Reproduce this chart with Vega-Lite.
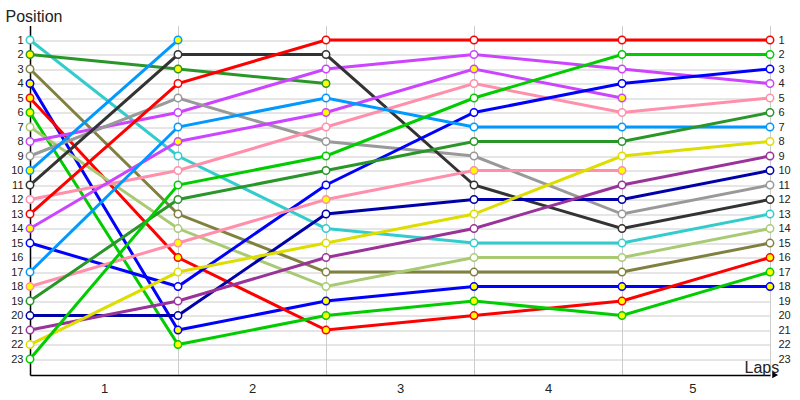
{
  "$schema": "https://vega.github.io/schema/vega-lite/v6.json",
  "width": 740,
  "height": 349.5,
  "autosize": "none",
  "padding": {"left": 30, "top": 25.5, "right": 30, "bottom": 25},
  "background": "white",
  "config": {"view": {"stroke": null}, "font": "Liberation Sans"},
  "datasets": {
    "laps": [
      {"d":"01","t":"cyan","l":0,"p":1,"pit":"n"},{"d":"01","t":"cyan","l":1,"p":9,"pit":"n"},{"d":"01","t":"cyan","l":2,"p":14,"pit":"n"},{"d":"01","t":"cyan","l":3,"p":15,"pit":"n"},{"d":"01","t":"cyan","l":4,"p":15,"pit":"n"},{"d":"01","t":"cyan","l":5,"p":13,"pit":"n"},
      {"d":"02","t":"dkgreen","l":0,"p":2,"pit":"y"},{"d":"02","t":"dkgreen","l":1,"p":3,"pit":"y"},{"d":"02","t":"dkgreen","l":2,"p":4,"pit":"y"},
      {"d":"03","t":"olive","l":0,"p":3,"pit":"n"},{"d":"03","t":"olive","l":1,"p":13,"pit":"n"},{"d":"03","t":"olive","l":2,"p":17,"pit":"n"},{"d":"03","t":"olive","l":3,"p":17,"pit":"n"},{"d":"03","t":"olive","l":4,"p":17,"pit":"n"},{"d":"03","t":"olive","l":5,"p":15,"pit":"n"},
      {"d":"04","t":"blue","l":0,"p":4,"pit":"y"},{"d":"04","t":"blue","l":1,"p":21,"pit":"y"},{"d":"04","t":"blue","l":2,"p":19,"pit":"y"},{"d":"04","t":"blue","l":3,"p":18,"pit":"y"},{"d":"04","t":"blue","l":4,"p":18,"pit":"y"},{"d":"04","t":"blue","l":5,"p":18,"pit":"y"},
      {"d":"05","t":"red","l":0,"p":5,"pit":"y"},{"d":"05","t":"red","l":1,"p":16,"pit":"y"},{"d":"05","t":"red","l":2,"p":21,"pit":"y"},{"d":"05","t":"red","l":3,"p":20,"pit":"y"},{"d":"05","t":"red","l":4,"p":19,"pit":"y"},{"d":"05","t":"red","l":5,"p":16,"pit":"y"},
      {"d":"06","t":"green","l":0,"p":6,"pit":"y"},{"d":"06","t":"green","l":1,"p":22,"pit":"y"},{"d":"06","t":"green","l":2,"p":20,"pit":"y"},{"d":"06","t":"green","l":3,"p":19,"pit":"y"},{"d":"06","t":"green","l":4,"p":20,"pit":"y"},{"d":"06","t":"green","l":5,"p":17,"pit":"y"},
      {"d":"07","t":"ltgreen","l":0,"p":7,"pit":"n"},{"d":"07","t":"ltgreen","l":1,"p":14,"pit":"n"},{"d":"07","t":"ltgreen","l":2,"p":18,"pit":"n"},{"d":"07","t":"ltgreen","l":3,"p":16,"pit":"n"},{"d":"07","t":"ltgreen","l":4,"p":16,"pit":"n"},{"d":"07","t":"ltgreen","l":5,"p":14,"pit":"n"},
      {"d":"08","t":"violet","l":0,"p":8,"pit":"n"},{"d":"08","t":"violet","l":1,"p":6,"pit":"n"},{"d":"08","t":"violet","l":2,"p":3,"pit":"n"},{"d":"08","t":"violet","l":3,"p":2,"pit":"n"},{"d":"08","t":"violet","l":4,"p":3,"pit":"n"},{"d":"08","t":"violet","l":5,"p":4,"pit":"n"},
      {"d":"09","t":"gray","l":0,"p":9,"pit":"n"},{"d":"09","t":"gray","l":1,"p":5,"pit":"n"},{"d":"09","t":"gray","l":2,"p":8,"pit":"n"},{"d":"09","t":"gray","l":3,"p":9,"pit":"n"},{"d":"09","t":"gray","l":4,"p":13,"pit":"n"},{"d":"09","t":"gray","l":5,"p":11,"pit":"n"},
      {"d":"10","t":"sky","l":0,"p":10,"pit":"y"},{"d":"10","t":"sky","l":1,"p":1,"pit":"y"},
      {"d":"11","t":"dkgray","l":0,"p":11,"pit":"n"},{"d":"11","t":"dkgray","l":1,"p":2,"pit":"n"},{"d":"11","t":"dkgray","l":2,"p":2,"pit":"n"},{"d":"11","t":"dkgray","l":3,"p":11,"pit":"n"},{"d":"11","t":"dkgray","l":4,"p":14,"pit":"n"},{"d":"11","t":"dkgray","l":5,"p":12,"pit":"n"},
      {"d":"12","t":"pink","l":0,"p":12,"pit":"n"},{"d":"12","t":"pink","l":1,"p":10,"pit":"n"},{"d":"12","t":"pink","l":2,"p":7,"pit":"n"},{"d":"12","t":"pink","l":3,"p":4,"pit":"n"},{"d":"12","t":"pink","l":4,"p":6,"pit":"n"},{"d":"12","t":"pink","l":5,"p":5,"pit":"n"},
      {"d":"13","t":"red","l":0,"p":13,"pit":"n"},{"d":"13","t":"red","l":1,"p":4,"pit":"n"},{"d":"13","t":"red","l":2,"p":1,"pit":"n"},{"d":"13","t":"red","l":3,"p":1,"pit":"n"},{"d":"13","t":"red","l":4,"p":1,"pit":"n"},{"d":"13","t":"red","l":5,"p":1,"pit":"n"},
      {"d":"14","t":"violet","l":0,"p":14,"pit":"y"},{"d":"14","t":"violet","l":1,"p":8,"pit":"y"},{"d":"14","t":"violet","l":2,"p":6,"pit":"y"},{"d":"14","t":"violet","l":3,"p":3,"pit":"y"},{"d":"14","t":"violet","l":4,"p":5,"pit":"y"},
      {"d":"15","t":"blue","l":0,"p":15,"pit":"n"},{"d":"15","t":"blue","l":1,"p":18,"pit":"n"},{"d":"15","t":"blue","l":2,"p":11,"pit":"n"},{"d":"15","t":"blue","l":3,"p":6,"pit":"n"},{"d":"15","t":"blue","l":4,"p":4,"pit":"n"},{"d":"15","t":"blue","l":5,"p":3,"pit":"n"},
      {"d":"17","t":"sky","l":0,"p":17,"pit":"n"},{"d":"17","t":"sky","l":1,"p":7,"pit":"n"},{"d":"17","t":"sky","l":2,"p":5,"pit":"n"},{"d":"17","t":"sky","l":3,"p":7,"pit":"n"},{"d":"17","t":"sky","l":4,"p":7,"pit":"n"},{"d":"17","t":"sky","l":5,"p":7,"pit":"n"},
      {"d":"18","t":"pink","l":0,"p":18,"pit":"y"},{"d":"18","t":"pink","l":1,"p":15,"pit":"y"},{"d":"18","t":"pink","l":2,"p":12,"pit":"y"},{"d":"18","t":"pink","l":3,"p":10,"pit":"y"},{"d":"18","t":"pink","l":4,"p":10,"pit":"y"},
      {"d":"19","t":"dkgreen","l":0,"p":19,"pit":"n"},{"d":"19","t":"dkgreen","l":1,"p":12,"pit":"n"},{"d":"19","t":"dkgreen","l":2,"p":10,"pit":"n"},{"d":"19","t":"dkgreen","l":3,"p":8,"pit":"n"},{"d":"19","t":"dkgreen","l":4,"p":8,"pit":"n"},{"d":"19","t":"dkgreen","l":5,"p":6,"pit":"n"},
      {"d":"20","t":"navy","l":0,"p":20,"pit":"n"},{"d":"20","t":"navy","l":1,"p":20,"pit":"n"},{"d":"20","t":"navy","l":2,"p":13,"pit":"n"},{"d":"20","t":"navy","l":3,"p":12,"pit":"n"},{"d":"20","t":"navy","l":4,"p":12,"pit":"n"},{"d":"20","t":"navy","l":5,"p":10,"pit":"n"},
      {"d":"21","t":"purple","l":0,"p":21,"pit":"n"},{"d":"21","t":"purple","l":1,"p":19,"pit":"n"},{"d":"21","t":"purple","l":2,"p":16,"pit":"n"},{"d":"21","t":"purple","l":3,"p":14,"pit":"n"},{"d":"21","t":"purple","l":4,"p":11,"pit":"n"},{"d":"21","t":"purple","l":5,"p":9,"pit":"n"},
      {"d":"22","t":"yellow","l":0,"p":22,"pit":"n"},{"d":"22","t":"yellow","l":1,"p":17,"pit":"n"},{"d":"22","t":"yellow","l":2,"p":15,"pit":"n"},{"d":"22","t":"yellow","l":3,"p":13,"pit":"n"},{"d":"22","t":"yellow","l":4,"p":9,"pit":"n"},{"d":"22","t":"yellow","l":5,"p":8,"pit":"n"},
      {"d":"23","t":"green","l":0,"p":23,"pit":"n"},{"d":"23","t":"green","l":1,"p":11,"pit":"n"},{"d":"23","t":"green","l":2,"p":9,"pit":"n"},{"d":"23","t":"green","l":3,"p":5,"pit":"n"},{"d":"23","t":"green","l":4,"p":2,"pit":"n"},{"d":"23","t":"green","l":5,"p":2,"pit":"n"}
    ],
    "arrow": [{"l": 5.035, "p": 24.1}]
  },
  "resolve": {"axis": {"y": "independent", "x": "independent"}},
  "layer": [
    {
      "data": {"name": "laps"},
      "mark": {"type": "line", "strokeWidth": 3},
      "encoding": {
        "x": {"field": "l", "type": "quantitative",
          "scale": {"domain": [0, 5], "nice": false, "zero": false},
          "axis": {"values": [1, 2, 3, 4, 5], "grid": true, "gridColor": "#cccccc", "gridWidth": 1,
            "ticks": false, "domain": true, "domainColor": "#000000", "domainWidth": 1.5,
            "labelOffset": -74, "labelPadding": 7, "labelFontSize": 13, "labelColor": "#222222", "labelFont": "Liberation Sans",
            "title": "Laps", "titleX": 714, "titleY": -3, "titleAlign": "left", "titleBaseline": "alphabetic",
            "titleFontSize": 16, "titleFontWeight": "normal", "titleColor": "#222222", "titleFont": "Liberation Sans"}},
        "y": {"field": "p", "type": "quantitative",
          "scale": {"domain": [0, 24.1], "nice": false, "zero": false, "reverse": true},
          "axis": {"values": [1,2,3,4,5,6,7,8,9,10,11,12,13,14,15,16,17,18,19,20,21,22,23], "grid": true, "gridColor": "#cccccc", "gridWidth": 1,
            "ticks": false, "domain": true, "domainColor": "#000000", "domainWidth": 1.5,
            "labelPadding": 7, "labelFontSize": 11, "labelColor": "#222222", "labelFont": "Liberation Sans",
            "title": "Position", "titleAngle": 0, "titleX": -25, "titleY": -4.5, "titleAlign": "left", "titleBaseline": "alphabetic",
            "titleFontSize": 16, "titleFontWeight": "normal", "titleColor": "#222222", "titleFont": "Liberation Sans"}},
        "stroke": {"field": "t", "type": "nominal", "legend": null,
          "scale": {"domain": ["cyan","dkgreen","olive","blue","red","green","ltgreen","violet","gray","sky","dkgray","pink","navy","purple","yellow"],
                    "range": ["#33CCCC","#2A962A","#808040","#0000FF","#FF0000","#00CC00","#A8CA72","#CC44FF","#999999","#0099FF","#333333","#FF8FAB","#0000AA","#993399","#DDDD00"]}},
        "detail": {"field": "d", "type": "nominal"},
        "order": {"field": "l", "type": "quantitative"}
      }
    },
    {
      "data": {"name": "laps"},
      "mark": {"type": "point", "shape": "circle", "filled": false, "size": 55, "strokeWidth": 1.5, "opacity": 1},
      "encoding": {
        "x": {"field": "l", "type": "quantitative", "axis": null},
        "y": {"field": "p", "type": "quantitative",
          "axis": {"orient": "right", "values": [1,2,3,4,5,6,7,8,9,10,11,12,13,14,15,16,17,18,19,20,21,22,23], "grid": false,
            "ticks": false, "domain": false, "labelPadding": 8, "labelFontSize": 11, "labelColor": "#222222", "labelFont": "Liberation Sans", "title": null}},
        "stroke": {"field": "t", "type": "nominal", "legend": null},
        "fill": {"field": "pit", "type": "nominal", "legend": null,
          "scale": {"domain": ["n", "y"], "range": ["#FFFFFF", "#FFFF00"]}}
      }
    },
    {
      "data": {"name": "arrow"},
      "mark": {"type": "point", "shape": "triangle-right", "filled": true, "size": 45, "color": "#000000", "opacity": 1},
      "encoding": {
        "x": {"field": "l", "type": "quantitative", "axis": null},
        "y": {"field": "p", "type": "quantitative", "axis": null}
      }
    }
  ]
}
